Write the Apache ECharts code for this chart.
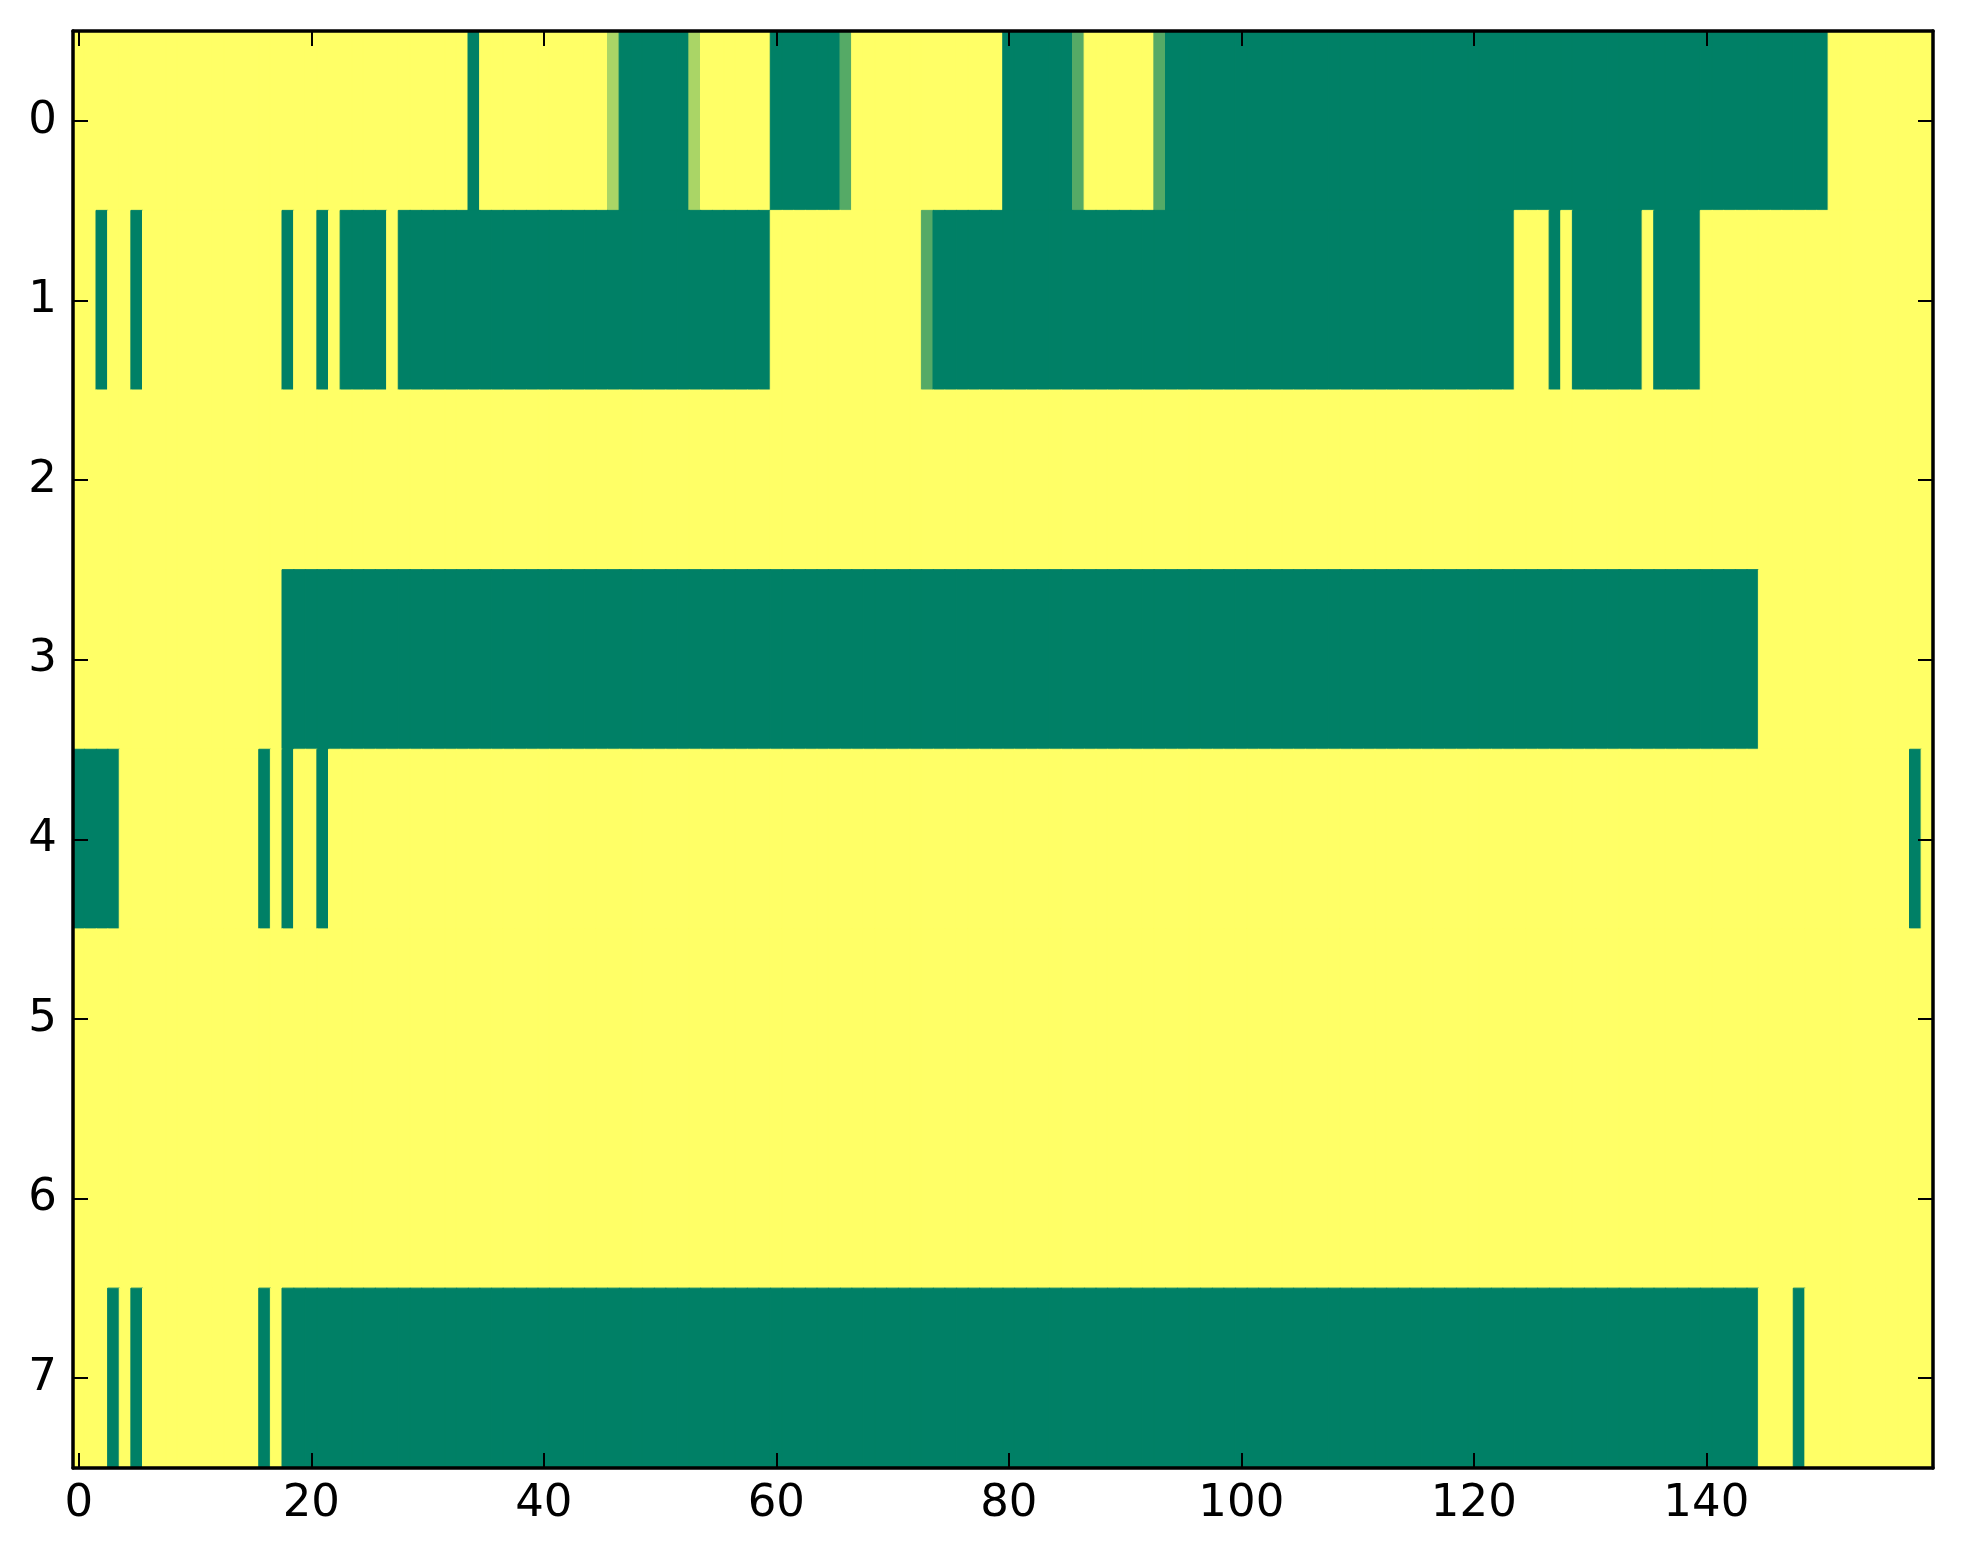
<!DOCTYPE html>
<html>
<head>
<meta charset="utf-8">
<title>heatmap</title>
<script src="https://cdn.jsdelivr.net/npm/echarts@6/dist/echarts.min.js"></script>
<style>
	html, body { margin: 0; padding: 0; background: #fff; }
	#chart { width: 1963px; height: 1564px; }
</style>
</head>
<body>
<div id="chart"></div>
<script>
// 160 columns, 8 rows; each row is a list of runs [from, to, value]
var colCount = 160;
var rowLabels = ["0", "1", "2", "3", "4", "5", "6", "7"];
var xTickStep = 20;

var row0 = [[0, 33, 1], [34, 34, 0], [35, 45, 1], [46, 46, 0.667], [47, 52, 0], [53, 53, 0.667],
	[54, 59, 1], [60, 65, 0], [66, 66, 0.333], [67, 79, 1], [80, 85, 0], [86, 86, 0.333],
	[87, 92, 1], [93, 93, 0.333], [94, 150, 0], [151, 159, 1]];
var row1 = [[0, 1, 1], [2, 2, 0], [3, 4, 1], [5, 5, 0], [6, 17, 1], [18, 18, 0], [19, 20, 1],
	[21, 21, 0], [22, 22, 1], [23, 26, 0], [27, 27, 1], [28, 59, 0], [60, 72, 1], [73, 73, 0.333],
	[74, 123, 0], [124, 126, 1], [127, 127, 0], [128, 128, 1], [129, 134, 0], [135, 135, 1],
	[136, 139, 0], [140, 159, 1]];
var row2 = [[0, 159, 1]];
var row3 = [[0, 17, 1], [18, 144, 0], [145, 159, 1]];
var row4 = [[0, 3, 0], [4, 15, 1], [16, 16, 0], [17, 17, 1], [18, 18, 0], [19, 20, 1],
	[21, 21, 0], [22, 157, 1], [158, 158, 0], [159, 159, 1]];
var row5 = [[0, 159, 1]];
var row6 = [[0, 159, 1]];
var row7 = [[0, 2, 1], [3, 3, 0], [4, 4, 1], [5, 5, 0], [6, 15, 1], [16, 16, 0], [17, 17, 1],
	[18, 144, 0], [145, 147, 1], [148, 148, 0], [149, 159, 1]];

var rows = [row0, row1, row2, row3, row4, row5, row6, row7];

var ChartPage = function () { }

ChartPage.prototype = {
	font: "DejaVu Sans",
	palette: ["#008066", "#ffff66"],
	init: function () {
		this.chart = echarts.init(document.getElementById("chart"));
		this.chart.setOption(this.buildOption(), true);
	},
	buildCells: function () {
		var that = this;
		var cells = [];
		rows.forEach(function (runs, r) {
			runs.forEach(function (run) {
				// thin border in the cell colour hides the seams between neighbouring cells
				var edge = echarts.color.lerp(run[2], that.palette);
				for (var c = run[0]; c <= run[1]; c++) {
					cells.push({
						value: [c, r, run[2]],
						itemStyle: { borderColor: edge, borderWidth: 1 }
					});
				}
			});
		});
		return cells;
	},
	xCategories: function () {
		var list = [];
		for (var i = 0; i < colCount; i++) {
			list.push(String(i));
		}
		return list;
	},
	everyTick: function (idx) {
		return idx % xTickStep === 0;
	},
	xAxisFor: function (pos, showLabel) {
		return {
			type: "category",
			position: pos,
			data: this.xCategories(),
			z: 10,
			axisLine: { show: true, onZero: false, lineStyle: { color: "#000", width: 3.5 } },
			axisTick: { show: true, inside: true, length: 15, alignWithLabel: true, interval: this.everyTick, lineStyle: { color: "#000", width: 2 } },
			axisLabel: { show: showLabel, interval: this.everyTick, margin: 14, color: "#000", fontSize: 45, fontFamily: this.font },
			splitLine: { show: false }
		};
	},
	yAxisFor: function (pos, showLabel) {
		return {
			type: "category",
			position: pos,
			inverse: true,
			data: rowLabels,
			z: 10,
			axisLine: { show: true, onZero: false, lineStyle: { color: "#000", width: 3.5 } },
			axisTick: { show: true, inside: true, length: 15, alignWithLabel: true, lineStyle: { color: "#000", width: 2 } },
			axisLabel: { show: showLabel, margin: 16, color: "#000", fontSize: 45, fontFamily: this.font },
			splitLine: { show: false }
		};
	},
	buildOption: function () {
		return {
			animation: false,
			backgroundColor: "#fff",
			grid: { left: 73, top: 31, width: 1860, height: 1437 },
			xAxis: [this.xAxisFor("bottom", true), this.xAxisFor("top", false)],
			yAxis: [this.yAxisFor("left", true), this.yAxisFor("right", false)],
			visualMap: {
				show: false,
				type: "continuous",
				min: 0,
				max: 1,
				dimension: 2,
				inRange: { color: this.palette }
			},
			series: [{
				type: "heatmap",
				xAxisIndex: 0,
				yAxisIndex: 0,
				data: this.buildCells(),
				emphasis: { disabled: true }
			}]
		};
	}
}

window.onload = function () {
	var page = new ChartPage();
	page.init();
}
</script>
</body>
</html>
